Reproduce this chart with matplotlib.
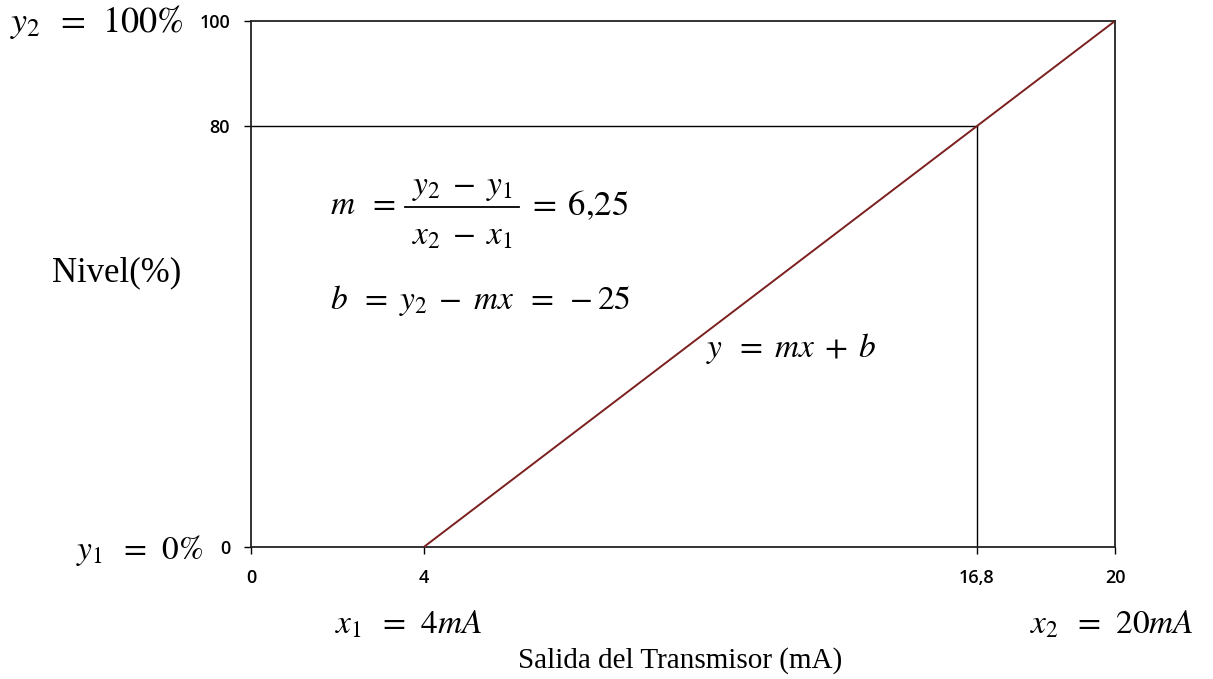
import matplotlib
matplotlib.use("Agg")
import matplotlib.pyplot as plt
from matplotlib.lines import Line2D

# Datos de la recta de calibración
corriente = [4, 20]          # mA
nivel = [0, 100]             # %
punto_x, punto_y = 16.8, 80  # punto de lectura

x_ticks = [0, 4, 16.8, 20]
x_labels = ["0", "4", "16,8", "20"]
y_ticks = [0, 80, 100]
y_labels = ["0", "80", "100"]

plt.rcParams["mathtext.fontset"] = "stix"

W, H = 1213, 679
fig = plt.figure(figsize=(W / 100, H / 100), dpi=100)
ax = fig.add_axes([251 / W, 1 - 547 / H, 864 / W, 526 / H])

ax.plot(corriente, nivel, color="#7b1f1f", linewidth=1.4, zorder=3)
ax.plot([0, punto_x], [punto_y, punto_y], color="black", linewidth=1.0)
ax.plot([punto_x, punto_x], [0, punto_y], color="black", linewidth=1.0)

ax.set_xlim(0, 20)
ax.set_ylim(0, 100)
ax.set_xticks(x_ticks)
ax.set_xticklabels(x_labels)
ax.set_yticks(y_ticks)
ax.set_yticklabels(y_labels)
for s in ax.spines.values():
    s.set_linewidth(1.3)
    s.set_color("#222222")
ax.tick_params(direction="out", length=5, width=1.0, labelsize=13,
               labelfontfamily="Open Sans")
ax.tick_params(axis="x", pad=11)
ax.tick_params(axis="y", pad=10)
for lbl in ax.get_xticklabels() + ax.get_yticklabels():
    lbl.set_fontweight("semibold")

def ftxt(px, py, s, size=24, ha="left", family="Liberation Serif"):
    fig.text(px / W, 1 - py / H, s, fontsize=size, ha=ha, va="center",
             family=family)

ftxt(10, 22, r"$y_2\;\;=\;\,100\%$", size=26)
ftxt(76, 550, r"$y_1\;\;=\;\,0\%$", size=24)
ftxt(335, 625, r"$x_1\;\;=\;\,4mA$")
ftxt(1030, 625, r"$x_2\;\;=\;\,20mA$")
ftxt(680, 661, "Salida del Transmisor (mA)", size=21, ha="center")
ftxt(52, 273, "Nivel(%)", size=25)

# pendiente: m = (y2 - y1) / (x2 - x1)
ftxt(330, 206, r"$m\;\;=$")
ftxt(462, 188, r"$y_2\;-\;y_1$", ha="center")
fig.add_artist(Line2D([405 / W, 519 / W], [1 - 207 / H, 1 - 207 / H],
                      color="black", linewidth=1.3))
ftxt(462, 236, r"$x_2\;-\;x_1$", ha="center")
ftxt(527, 206, r"$=\;6{,}25$", size=25)

ftxt(330, 301, r"$b\;\;=\;y_2\;-\;mx\;\;=\;-25$")
ftxt(706, 349, r"$y\;\;=\;mx\;+\;b$")

fig.savefig("out.png", dpi=100)
